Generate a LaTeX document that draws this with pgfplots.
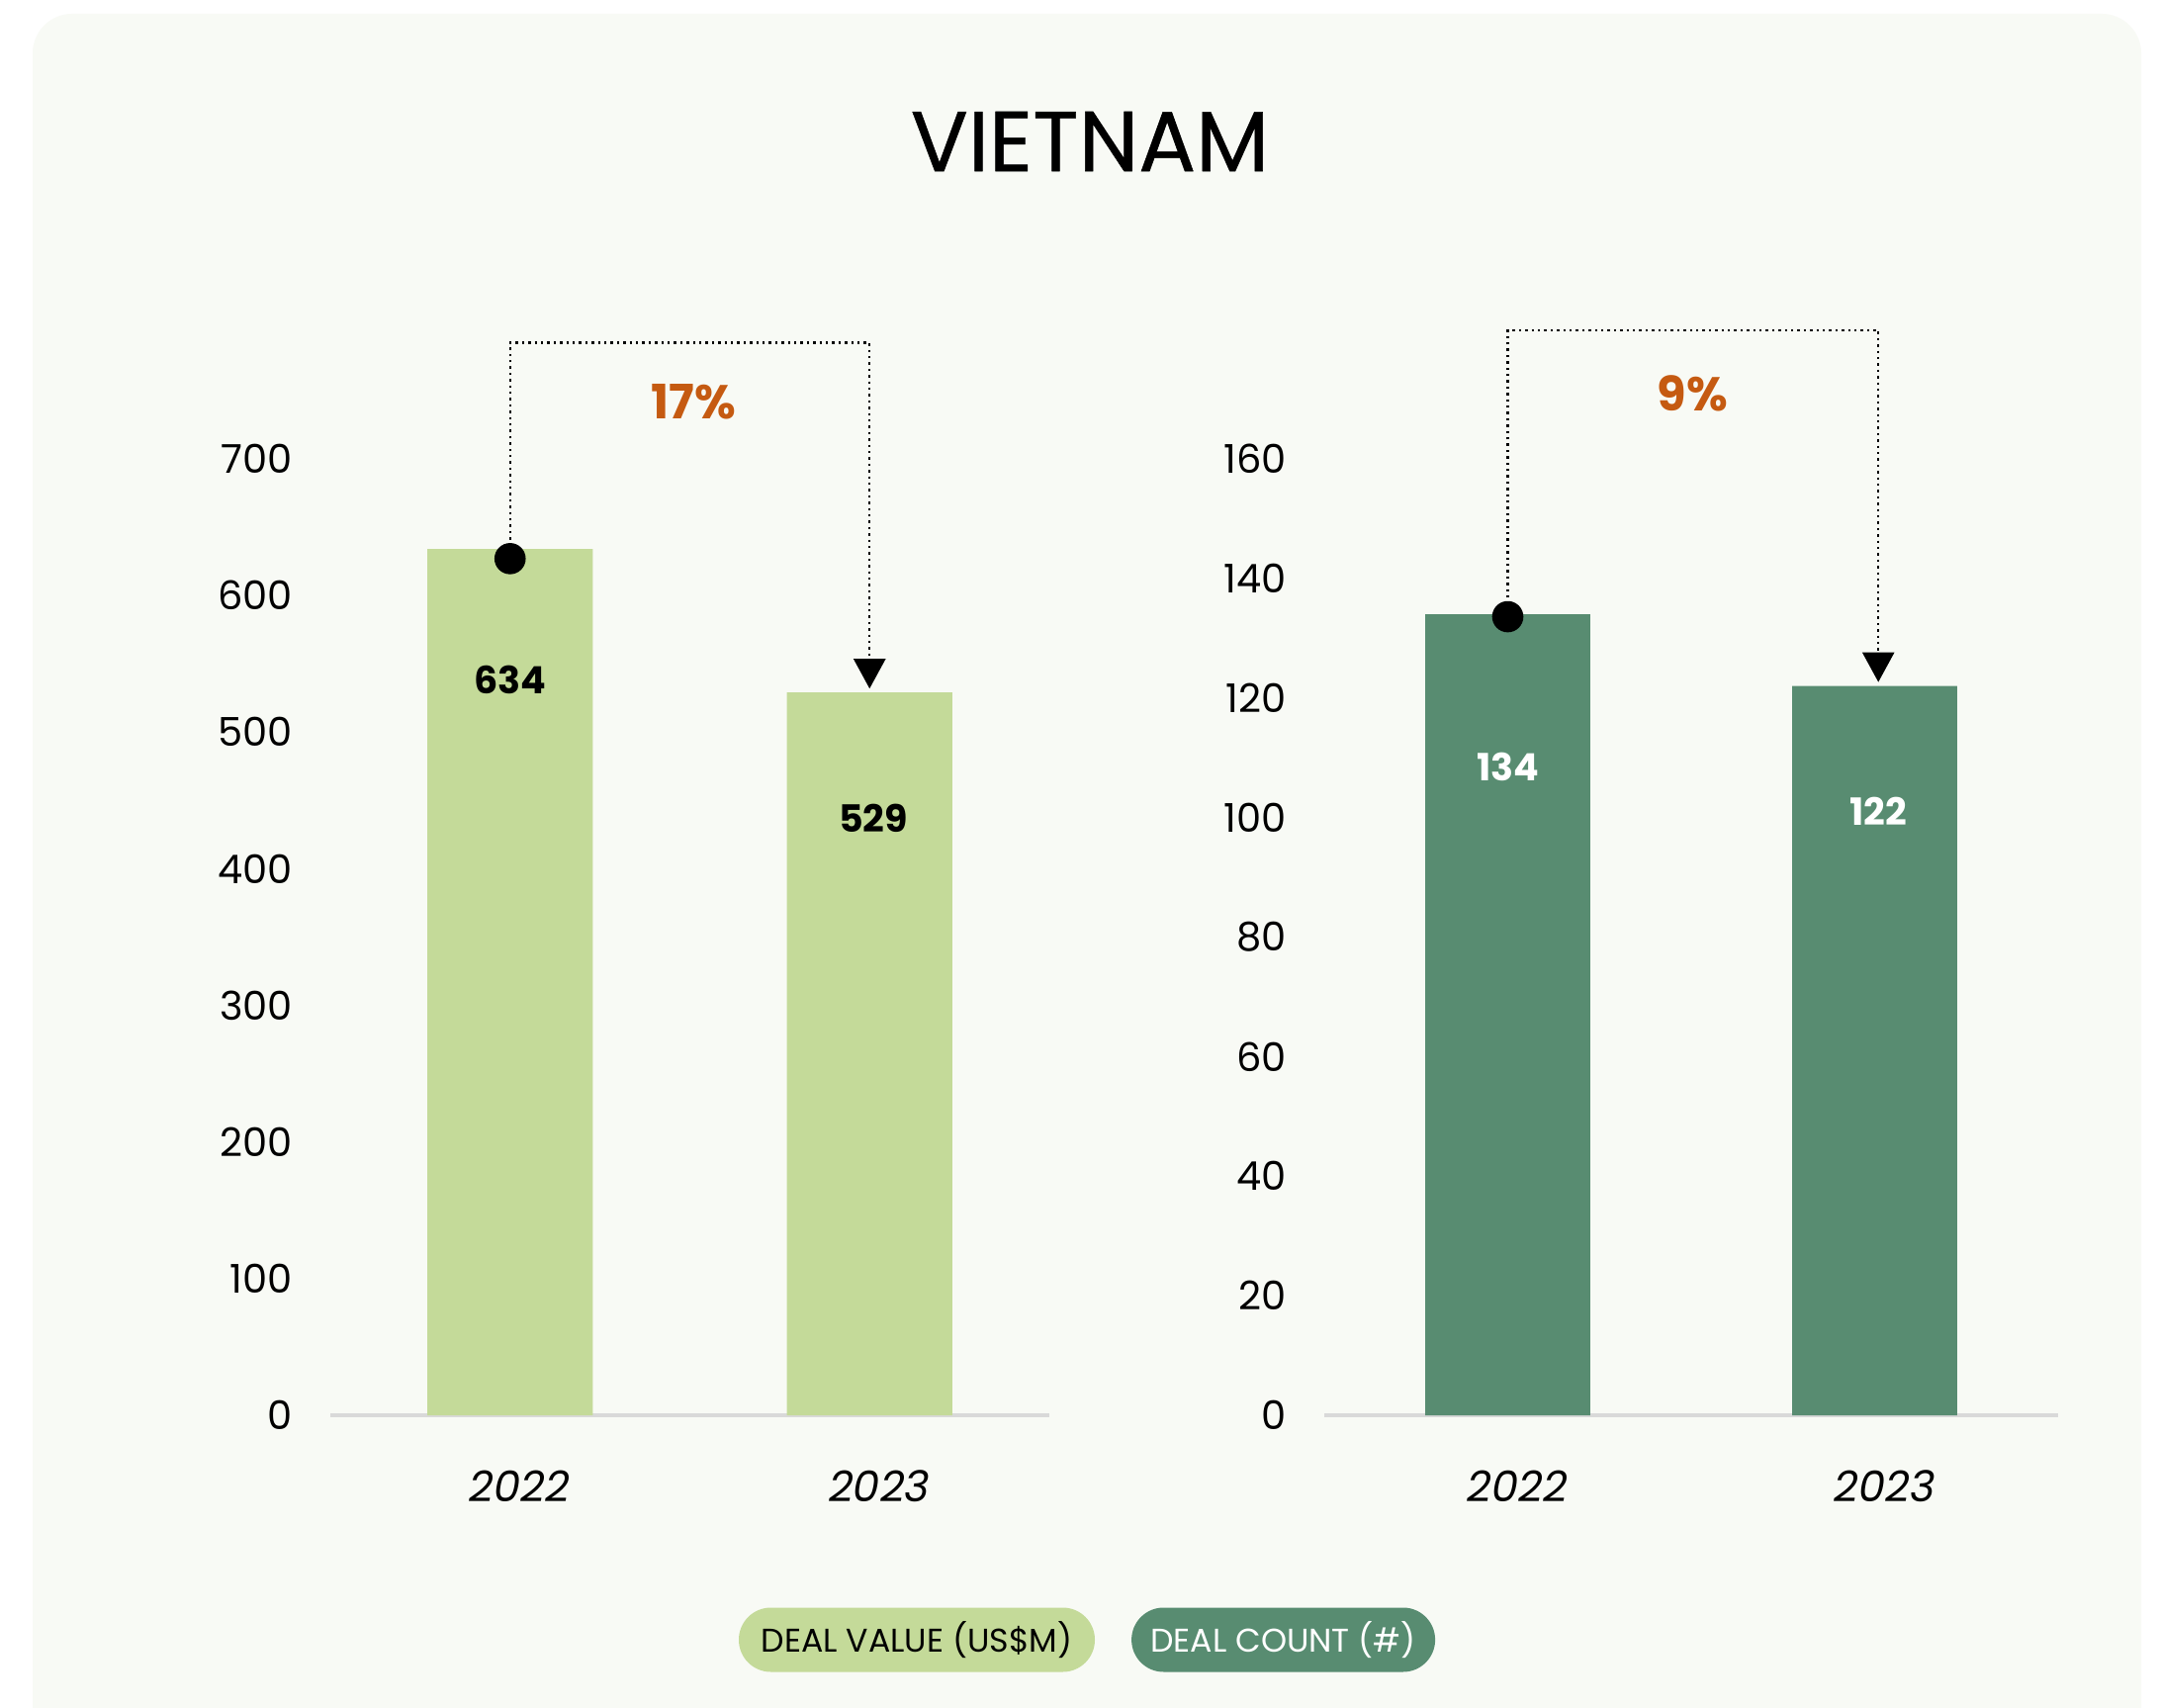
\documentclass[border=0pt]{standalone}
\usepackage{fontspec}
\setmainfont{Poppins}
\usepackage{pgfplots}
\pgfplotsset{compat=1.18}
\usetikzlibrary{arrows.meta}
\definecolor{bg}{HTML}{F8FAF5}
\definecolor{lg}{HTML}{C4DA99}
\definecolor{dg}{HTML}{588C71}
\definecolor{og}{HTML}{C55A11}
\definecolor{axg}{HTML}{D9D9D9}
\pgfplotsset{mystyle/.style={
  scale only axis, height=241.75pt, ymin=0, xmin=-0.5, xmax=1.5,
  axis line style={draw=none}, major tick length=0pt, tick style={draw=none},
  xtick={0,1}, xticklabels={2022,2023},
  xticklabel style={font=\itshape\fontsize{10.8}{12}\selectfont, yshift=-10.5pt, xshift=2.5pt},
  yticklabel style={font=\fontsize{10}{11}\selectfont, xshift=-6pt},
  /pgf/number format/assume math mode=true, clip=false,
  anchor=south west}}
\begin{document}
\begin{tikzpicture}
\clip (0,0) rectangle (545.75pt,431.5pt);
\fill[white] (0,0) rectangle (545.75pt,431.5pt);
\fill[bg, rounded corners=10pt] (8.25pt,-20pt) rectangle (541.25pt,428pt);
\node[font=\fontsize{21.5}{24}\selectfont\addfontfeature{FakeBold=0.6}] at (275.5pt,395.75pt) {VIETNAM};

\begin{axis}[mystyle, at={(83.5pt,73.75pt)}, width=181.75pt, ymax=700, ytick={0,100,...,700}]
\draw[axg, line width=0.8pt] (axis cs:-0.5,0) -- (axis cs:1.5,0);
\addplot[ybar, bar width=0.46, fill=lg, draw=none] coordinates {(0,634) (1,529)};
\addplot[black, densely dotted, line width=0.6pt, -{Triangle[length=7.5pt,width=8pt]}, shorten >=1pt] coordinates {(0,627) (0,785) (1,785) (1,529)};
\addplot[only marks, mark=*, mark size=3.75pt, black] coordinates {(0,627)};
\node[font=\bfseries\fontsize{9.5}{11}\selectfont] at (axis cs:0,538) {634};
\node[font=\bfseries\fontsize{9.5}{11}\selectfont] at (axis cs:1.01,437) {529};
\node[font=\bfseries\fontsize{12}{14}\selectfont, text=og] at (axis cs:0.51,742) {17\%};
\end{axis}

\begin{axis}[mystyle, at={(334.75pt,73.75pt)}, width=185.5pt, ymax=160, ytick={0,20,...,160}]
\draw[axg, line width=0.8pt] (axis cs:-0.5,0) -- (axis cs:1.5,0);
\addplot[ybar, bar width=0.45, fill=dg, draw=none] coordinates {(0,134) (1,122)};
\addplot[black, densely dotted, line width=0.6pt, -{Triangle[length=7.5pt,width=8pt]}, shorten >=1pt] coordinates {(0,133.6) (0,181.5) (1.01,181.5) (1.01,122)};
\addplot[only marks, mark=*, mark size=3.75pt, black] coordinates {(0,133.6)};
\node[font=\bfseries\fontsize{9.5}{11}\selectfont, text=white] at (axis cs:0,108.5) {134};
\node[font=\bfseries\fontsize{9.5}{11}\selectfont, text=white] at (axis cs:1.01,101) {122};
\node[font=\bfseries\fontsize{12}{14}\selectfont, text=og] at (axis cs:0.504,171) {9\%};
\end{axis}

\node[fill=lg, rounded corners=8.1pt, minimum width=90pt, minimum height=16.25pt, inner sep=0pt, font=\fontsize{8.3}{10}\selectfont] at (231.75pt,17pt) {DEAL VALUE (US\$M)};
\node[fill=dg, rounded corners=8.1pt, minimum width=76.75pt, minimum height=16.25pt, inner sep=0pt, text=white, font=\fontsize{8.3}{10}\selectfont] at (324.4pt,17pt) {DEAL COUNT (\#)};
\end{tikzpicture}
\end{document}
